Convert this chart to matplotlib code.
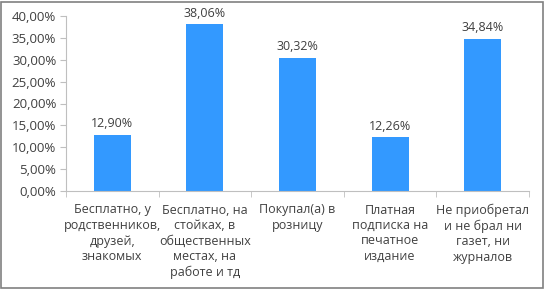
import matplotlib
matplotlib.use("Agg")
import matplotlib.pyplot as plt
from matplotlib.ticker import FuncFormatter, MultipleLocator, FixedLocator
import numpy as np

categories = [
    "Бесплатно, у\nродственников,\nдрузей,\nзнакомых",
    "Бесплатно, на\nстойках, в\nобщественных\nместах, на\nработе и тд",
    "Покупал(а) в\nрозницу",
    "Платная\nподписка на\nпечатное\nиздание",
    "Не приобретал\nи не брал ни\nгазет, ни\nжурналов",
]
values = [12.90, 38.06, 30.32, 12.26, 34.84]

plt.rcParams['font.family'] = ['Open Sans', 'DejaVu Sans']

W, H = 545, 289
fig = plt.figure(figsize=(W / 100, H / 100), dpi=100)
ax = fig.add_axes([66 / W, 1 - 191 / H, (529 - 66) / W, (191 - 16) / H])

x = np.arange(len(values))
ax.bar(x, values, width=0.4, color="#3399FF", zorder=2)
for xi, v in zip(x, values):
    ax.annotate(f"{v:.2f}%".replace(".", ","), (xi, v), xytext=(0, 3.5),
                textcoords="offset points", ha="center", va="bottom",
                fontsize=9, color="#404040")

ax.set_xlim(-0.5, len(values) - 0.5)
ax.set_ylim(0, 40)
ax.yaxis.set_major_locator(MultipleLocator(5))
ax.yaxis.set_major_formatter(FuncFormatter(lambda v, p: f"{v:.2f}%".replace(".", ",")))

ax.set_xticks(x)
ax.set_xticklabels(categories, fontsize=9, color="#404040", linespacing=1.25, va="top")
ax.tick_params(axis="x", which="major", length=0, pad=9)
ax.xaxis.set_minor_locator(FixedLocator(np.arange(-0.5, len(values), 1)))
ax.tick_params(axis="x", which="minor", length=4, color="#BFBFBF")
ax.tick_params(axis="y", length=4, color="#BFBFBF", labelsize=9.5, labelcolor="#404040", pad=3)

for s in ["top", "right"]:
    ax.spines[s].set_visible(False)
for s in ["left", "bottom"]:
    ax.spines[s].set_color("#BFBFBF")

fig.patches.append(plt.Rectangle((1 / W, 1 / H), 1 - 3 / W, 1 - 3 / H,
                                 transform=fig.transFigure, fill=False,
                                 edgecolor="#808080", linewidth=1.2))

fig.savefig("out.png", dpi=100)
